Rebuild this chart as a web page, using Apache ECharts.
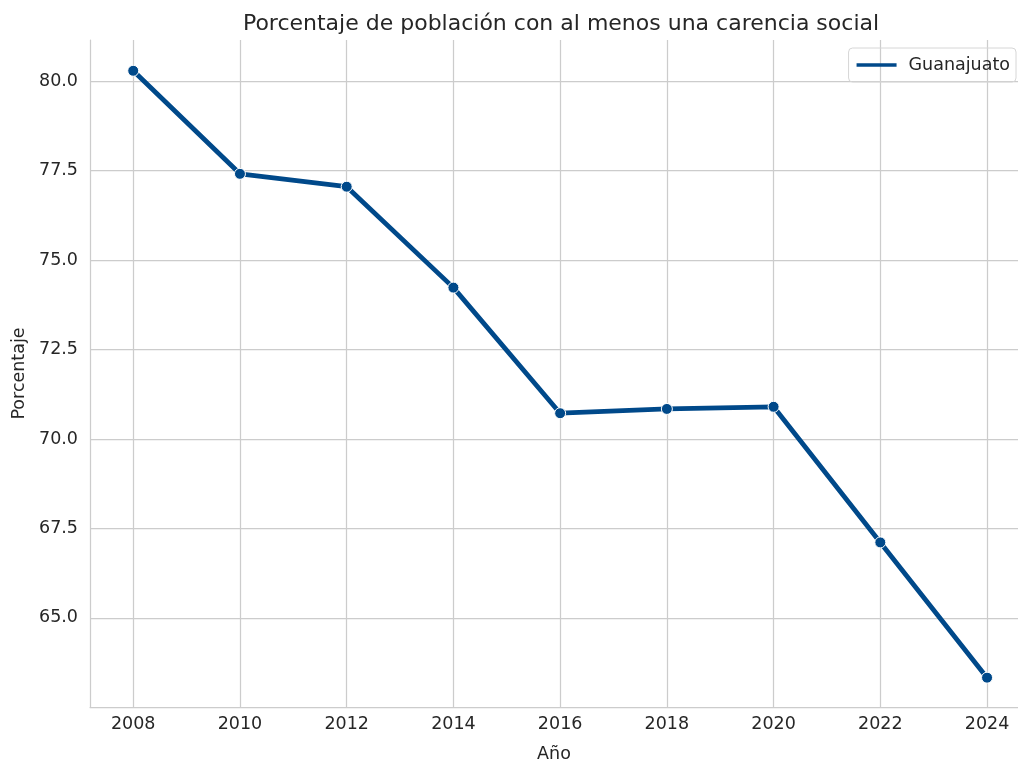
<!DOCTYPE html>
<html>
<head>
<meta charset="utf-8">
<style>
    html,body{margin:0;padding:0;background:#fff;}
    #chart{width:1018px;height:763px;}
</style>
</head>
<body>
<div id="chart"></div>
<script src="https://cdn.jsdelivr.net/npm/echarts@6/dist/echarts.min.js"></script>
<script>
    var years = [2008, 2010, 2012, 2014, 2016, 2018, 2020, 2022, 2024];
    var porcentaje = [80.29, 77.41, 77.05, 74.23, 70.72, 70.84, 70.90, 67.11, 63.33];
    var yTicks = [65, 67.5, 70, 72.5, 75, 77.5, 80];
    var seriesName = 'Guanajuato';

    var font = 'DejaVu Sans';
    var chart = echarts.init(document.getElementById('chart'));
    var data = years.map(function (y, i) { return [y, porcentaje[i]]; });

    var option = {
        backgroundColor: '#fff',
        title: {
            text: 'Porcentaje de población con al menos una carencia social',
            left: 556,
            textAlign: 'center',
            top: 8,
            textStyle: {fontFamily: font, fontSize: 22, fontWeight: 'normal', color: '#262626'}
        },
        legend: {
            data: [seriesName],
            right: 2,
            top: 48,
            icon: 'rect',
            itemWidth: 40,
            itemHeight: 3.5,
            itemGap: 10,
            padding: [8, 6, 8, 8],
            borderColor: '#d6d6d6',
            borderWidth: 1,
            borderRadius: 4,
            itemStyle: {color: '#00498a', borderWidth: 0},
            textStyle: {fontFamily: font, fontSize: 17.5, color: '#262626', padding: [0, 0, 0, 7]}
        },
        grid: {left: 90, right: 0, top: 40, bottom: 56, outerBoundsMode: 'none'},
        xAxis: {
            type: 'value',
            min: 2007.19,
            max: 2024.58,
            name: 'Año',
            nameLocation: 'middle',
            nameGap: 38,
            nameTextStyle: {fontFamily: font, fontSize: 17.5, color: '#262626'},
            axisLine: {show: true, lineStyle: {color: '#cccccc', width: 1.25}},
            axisTick: {show: false, customValues: years},
            axisLabel: {
                customValues: years, fontFamily: font, fontSize: 17.5, color: '#262626', margin: 8,
                formatter: function (v) { return String(v); }
            },
            splitLine: {show: true, lineStyle: {color: '#cccccc', width: 1.25}}
        },
        yAxis: {
            type: 'value',
            min: 62.51,
            max: 81.15,
            name: 'Porcentaje',
            nameLocation: 'middle',
            nameGap: 62,
            nameTextStyle: {fontFamily: font, fontSize: 17.5, color: '#262626'},
            axisLine: {show: true, lineStyle: {color: '#cccccc', width: 1.25}},
            axisTick: {show: false, customValues: yTicks},
            axisLabel: {
                customValues: yTicks,
                fontFamily: font, fontSize: 17.5, color: '#262626', margin: 12,
                formatter: function (v) { return v.toFixed(1); }
            },
            splitLine: {show: true, lineStyle: {color: '#cccccc', width: 1.25}}
        },
        series: [{
            name: seriesName,
            type: 'line',
            data: data,
            color: '#00498a',
            lineStyle: {width: 4.8, color: '#00498a'},
            symbol: 'circle',
            symbolSize: 11,
            itemStyle: {color: '#00498a', borderColor: '#fff', borderWidth: 1},
            animation: false
        }]
    };
    chart.setOption(option);
</script>
</body>
</html>
